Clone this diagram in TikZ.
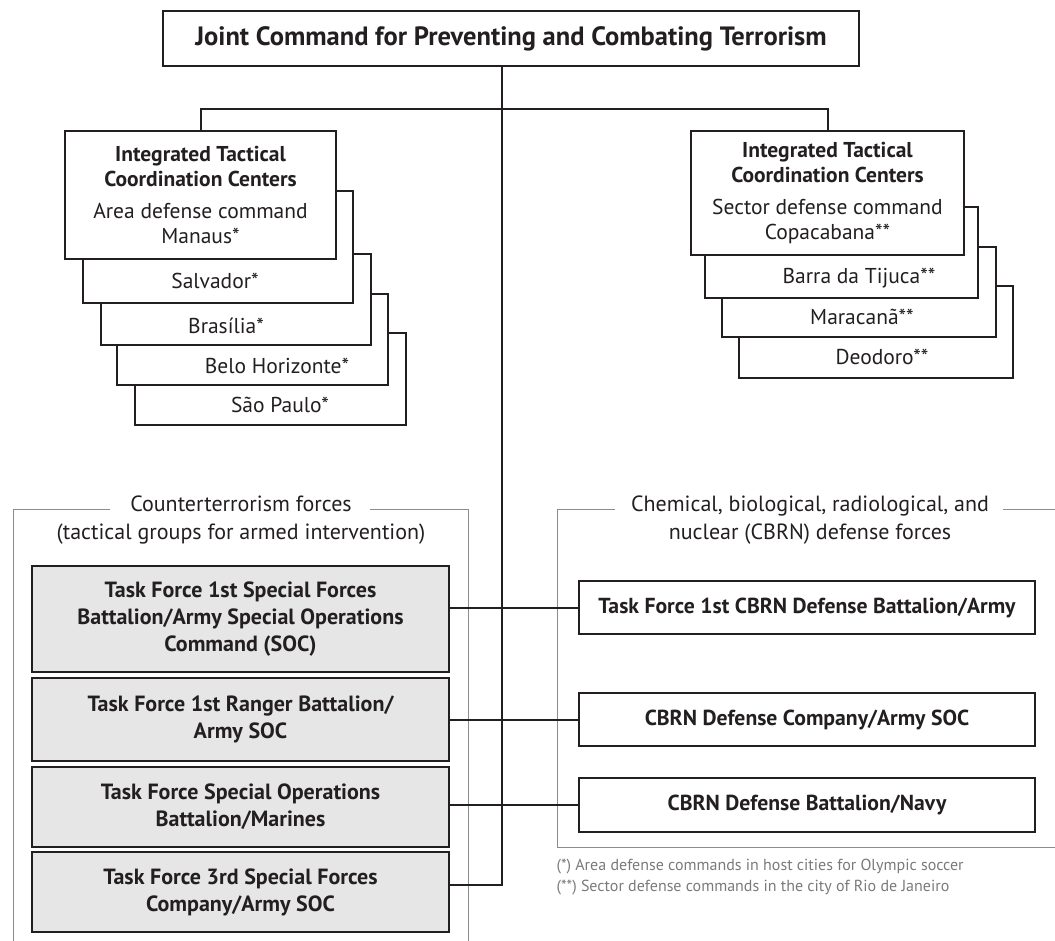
\documentclass[tikz,border=0pt]{standalone}
\usepackage{fontspec}
\setmainfont{PT Sans}
\usetikzlibrary{positioning}

\definecolor{ink}{HTML}{231F20}
\definecolor{boxgray}{HTML}{E6E6E6}
\definecolor{framegray}{HTML}{8C8C8C}
\definecolor{notegray}{HTML}{7A7A7A}

\begin{document}
\begin{tikzpicture}[x=1pt, y=-1pt, color=ink, text=ink,
    box/.style={draw, line width=1.8pt, fill=white, inner sep=0pt, align=center},
    tfbox/.style={draw, line width=2pt, fill=boxgray, inner sep=0pt, align=center,
      minimum width=417pt, font=\bfseries\fontsize{22}{27}\selectfont},
    cbrnbox/.style={draw, line width=2pt, fill=white, inner sep=0pt, align=center,
      minimum width=456pt, font=\bfseries\fontsize{21.7}{27}\selectfont},
    city/.style={font=\fontsize{21.5}{25}\selectfont},
    grouptitle/.style={align=center, font=\fontsize{22}{28}\selectfont},
    frame/.style={draw=framegray, line width=1pt},
    link/.style={draw, line width=2pt},
    note/.style={anchor=west, text=notegray, font=\fontsize{16}{19}\selectfont}]

    \useasboundingbox (0,0) rectangle (1055,941);

    % Gruppi in basso (cornici grigie)
    \draw[frame] (110,509) -- (13,509) -- (13,941);
    \draw[frame] (370,509) -- (468,509) -- (468,941);
    \node[grouptitle] (ctitle) at (241,520) {Counterterrorism forces\\(tactical groups for armed intervention)};

    \draw[frame] (615,509) -- (557,509) -- (557,847) -- (1055,847);
    \draw[frame] (1003,509) -- (1055,509);
    \node[grouptitle] (btitle) at (810,520) {Chemical, biological, radiological, and\\nuclear (CBRN) defense forces};

    % Comando congiunto
    \node[box, minimum width=696pt, minimum height=55pt,
      font=\bfseries\fontsize{26.5}{30}\selectfont] (jc) at (511,38.5)
      {Joint Command for Preventing and Combating Terrorism};

    % Pila di sinistra: dal fondo verso il davanti
    \node[box, minimum width=271pt, minimum height=92pt] (sp) at (270.5,379) {};
    \node[city] (sptxt) at (280,405) {São Paulo*};
    \node[box, minimum width=271pt, minimum height=91pt] (bh) at (252.5,339.5) {};
    \node[city] (bhtxt) at (277,366) {Belo Horizonte*};
    \node[box, minimum width=270pt, minimum height=91pt] (br) at (236,299.5) {};
    \node[city] (brtxt) at (226,326) {Brasília*};
    \node[box, minimum width=270pt, minimum height=112pt] (sa) at (218,247) {};
    \node[city] (satxt) at (215,281) {Salvador*};
    \node[box, minimum width=271pt, minimum height=128pt,
      font=\fontsize{21.5}{25}\selectfont] (itccL) at (200.5,195)
      {\textbf{Integrated Tactical}\\\textbf{Coordination Centers}\\[7pt]Area defense command\\Manaus*};

    % Pila di destra
    \node[box, minimum width=274pt, minimum height=92pt] (de) at (876,332) {};
    \node[city] (detxt) at (882,357) {Deodoro**};
    \node[box, minimum width=274pt, minimum height=90pt] (ma) at (859,292) {};
    \node[city] (matxt) at (862,317) {Maracanã**};
    \node[box, minimum width=273pt, minimum height=91pt] (bt) at (841.5,252.5) {};
    \node[city] (bttxt) at (859,278) {Barra da Tijuca**};
    \node[box, minimum width=273pt, minimum height=124pt,
      font=\fontsize{21.5}{25}\selectfont] (itccR) at (827.5,193)
      {\textbf{Integrated Tactical}\\\textbf{Coordination Centers}\\[7pt]Sector defense command\\Copacabana**};

    % Forze antiterrorismo
    \node[tfbox, minimum height=106pt] (tf1) at (240.5,619)
      {Task Force 1st Special Forces\\Battalion/Army Special Operations\\Command (SOC)};
    \node[tfbox, minimum height=83pt] (tf2) at (240.5,719.5)
      {Task Force 1st Ranger Battalion/\\Army SOC};
    \node[tfbox, minimum height=80pt] (tf3) at (240.5,807)
      {Task Force Special Operations\\Battalion/Marines};
    \node[tfbox, minimum height=80pt] (tf4) at (240.5,892)
      {Task Force 3rd Special Forces\\Company/Army SOC};

    % Forze CBRN
    \node[cbrnbox, minimum height=53pt] (cb1) at (807,607.5) {Task Force 1st CBRN Defense Battalion/Army};
    \node[cbrnbox, minimum height=53pt] (cb2) at (807,719.5) {CBRN Defense Company/Army SOC};
    \node[cbrnbox, minimum height=54pt] (cb3) at (807,805) {CBRN Defense Battalion/Navy};

    % Collegamenti
    \coordinate (bus) at (502,109);
    \coordinate (trunkend) at (502,885);
    \draw[link] (jc.south -| bus) -- (trunkend) -- (trunkend -| tf4.east);
    \draw[link] (itccL.north) -- (itccL.north |- bus) -| (itccR.north);
    \draw[link] (tf1.east |- cb1.west) -- (cb1.west);
    \draw[link] (tf2.east |- cb2.west) -- (cb2.west);
    \draw[link] (tf3.east |- cb3.west) -- (cb3.west);

    % Note
    \node[note] (note1) at (553,867) {(*) Area defense commands in host cities for Olympic soccer};
    \node[note] (note2) at (553,888) {(**) Sector defense commands in the city of Rio de Janeiro};

\end{tikzpicture}
\end{document}
